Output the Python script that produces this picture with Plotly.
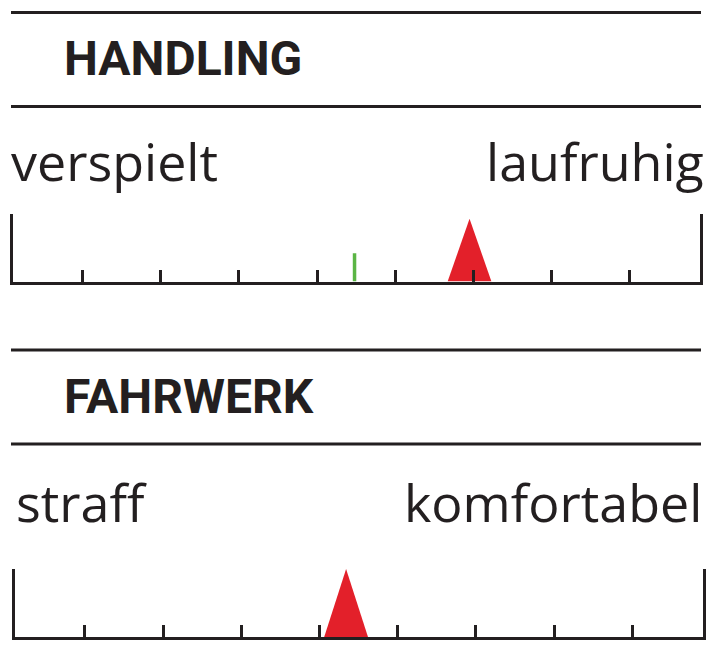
import plotly.graph_objects as go

# --- data ---
sections = ["HANDLING", "FAHRWERK"]
left_labels = ["verspielt", "straff"]
right_labels = ["laufruhig", "komfortabel"]
marker_values = [5.95, 4.34]      # red triangle position on the scale
reference_values = [4.48, None]   # green reference mark (only in first scale)
tick_values = [1, 2, 3, 4, 5, 6, 7, 8]

W, H = 712, 650
DARK = "#231f20"
RED = "#e3202a"
GREEN = "#5bb545"

blocks = [
    dict(rule_top=12.5, rule_bottom=106.5, head_y=59, label_y=161,
         scale_left=12.7, scale_right=700.3, bar_top=214, baseline=281.5,
         tri_h=0.93, label_left=9, label_right=706),
    dict(rule_top=350, rule_bottom=444, head_y=396, label_y=501,
         scale_left=15.3, scale_right=702.7, bar_top=569, baseline=637,
         tri_h=1.0, label_left=14, label_right=704),
]
X_RANGE = [0.11, 8.9]
TRI_HALF = 0.28
GREEN_H = 0.42


def px_x(x):
    return x / W


def px_y(y):
    return 1 - y / H


fig = go.Figure()
shapes = []
annotations = []

for i, b in enumerate(blocks):
    xa = "x" if i == 0 else f"x{i + 1}"
    ya = "y" if i == 0 else f"y{i + 1}"
    v = marker_values[i]

    # red triangle marker
    fig.add_trace(go.Scatter(
        x=[v - TRI_HALF, v, v + TRI_HALF, v - TRI_HALF],
        y=[0, b["tri_h"], 0, 0],
        fill="toself", fillcolor=RED, mode="lines",
        line=dict(width=0, color=RED),
        xaxis=xa, yaxis=ya, hoverinfo="skip", showlegend=False,
    ))

    # green reference mark
    if reference_values[i] is not None:
        r = reference_values[i]
        fig.add_trace(go.Scatter(
            x=[r, r], y=[0, GREEN_H], mode="lines",
            line=dict(width=3.5, color=GREEN),
            xaxis=xa, yaxis=ya, hoverinfo="skip", showlegend=False,
        ))

    axis_x = dict(
        domain=[px_x(b["scale_left"]), px_x(b["scale_right"])],
        range=X_RANGE, showgrid=False, zeroline=False,
        showline=True, linewidth=3, linecolor=DARK,
        ticks="inside", tickvals=tick_values, ticklen=12, tickwidth=3,
        tickcolor=DARK, showticklabels=False, fixedrange=True,
        anchor=ya, layer="above traces",
    )
    axis_y = dict(
        domain=[px_y(b["baseline"]), px_y(b["bar_top"])],
        range=[0, 1], showgrid=False, zeroline=False,
        showline=True, mirror=True, linewidth=3, linecolor=DARK,
        showticklabels=False, ticks="", fixedrange=True,
        anchor=xa, layer="above traces",
    )
    fig.update_layout({("xaxis" if i == 0 else f"xaxis{i + 1}"): axis_x,
                       ("yaxis" if i == 0 else f"yaxis{i + 1}"): axis_y})

    # horizontal rules around the heading
    for yy in (b["rule_top"], b["rule_bottom"]):
        shapes.append(dict(type="line", xref="paper", yref="paper",
                           x0=px_x(11), x1=px_x(701), y0=px_y(yy), y1=px_y(yy),
                           line=dict(color=DARK, width=3)))

    annotations.append(dict(
        text=sections[i], xref="paper", yref="paper",
        x=px_x(62), y=px_y(b["head_y"]), xanchor="left", yanchor="middle",
        showarrow=False,
        font=dict(family="Roboto, sans-serif", size=48, color=DARK, weight="bold"),
    ))
    annotations.append(dict(
        text=left_labels[i], xref="paper", yref="paper",
        x=px_x(b["label_left"]), y=px_y(b["label_y"]),
        xanchor="left", yanchor="middle", showarrow=False,
        font=dict(family="Open Sans, sans-serif", size=52, color=DARK),
    ))
    annotations.append(dict(
        text=right_labels[i], xref="paper", yref="paper",
        x=px_x(b["label_right"]), y=px_y(b["label_y"]),
        xanchor="right", yanchor="middle", showarrow=False,
        font=dict(family="Open Sans, sans-serif", size=52, color=DARK),
    ))

fig.update_layout(
    width=W, height=H,
    margin=dict(l=0, r=0, t=0, b=0),
    paper_bgcolor="white", plot_bgcolor="white",
    shapes=shapes, annotations=annotations,
    showlegend=False,
)

# drop the default page margin so the figure sits at the window's corner
fig.write_html("out.html", config={"displayModeBar": False},
               post_script="document.body.style.margin = '0';")
